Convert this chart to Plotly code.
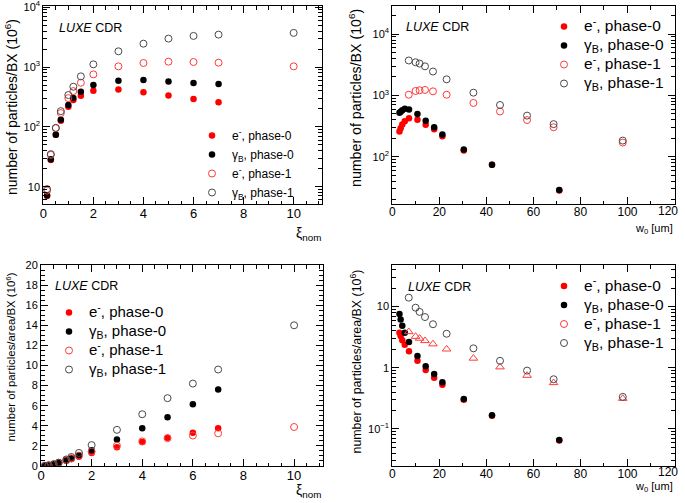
import plotly.graph_objects as go

# ---------------- data ----------------
xi_phase0 = [0.15, 0.3, 0.5, 0.7, 1.0, 1.2, 1.5, 2, 3, 4, 5, 6, 7]
xi_phase1 = [0.15, 0.3, 0.5, 0.7, 1.0, 1.2, 1.5, 2, 3, 4, 5, 6, 7, 10]

w0_phase0 = [142, 71, 42.4, 30.4, 21.3, 17.8, 14.2, 10.7, 7.1, 5.3, 4.25, 3.55, 3.05]
w0_phase1 = [460, 230, 138, 98.0, 68.6, 57.3, 45.8, 34.5, 23.1, 17.3, 13.9, 11.6, 9.9, 7.0]

# number of particles / BX (10^6)
n_e_phase0 = [7.0, 28, 73.5, 126, 216, 280, 331, 401, 422, 380, 335, 291, 257]
n_g_phase0 = [7.2, 28.6, 73.5, 131, 231, 302, 386, 499, 590, 605, 575, 540, 519]
n_e_phase1 = [8.6, 34, 95, 170, 302, 396, 546, 753, 1026, 1166, 1228, 1213, 1182, 1026]
n_g_phase1 = [9.1, 35, 96, 183, 340, 468, 698, 1109, 1831, 2455, 2985, 3310, 3480, 3720]

# number of particles / area / BX (10^6)
d_e_phase0 = [0.02, 0.065, 0.165, 0.30, 0.53, 0.69, 0.92, 1.3, 1.86, 2.38, 2.82, 3.3, 3.75]
d_g_phase0 = [0.02, 0.066, 0.168, 0.31, 0.58, 0.79, 1.06, 1.56, 2.63, 3.75, 4.85, 6.15, 7.6]
d_e_phase1 = [0.02, 0.07, 0.17, 0.315, 0.57, 0.75, 1.03, 1.43, 2.02, 2.45, 2.77, 3.03, 3.25, 3.88]
d_g_phase1 = [0.02, 0.07, 0.18, 0.335, 0.65, 0.9, 1.3, 2.08, 3.6, 5.15, 6.75, 8.2, 9.6, 14.0]

legend_labels = ["e<sup>-</sup>, phase-0", "γ<sub>B</sub>, phase-0",
                 "e<sup>-</sup>, phase-1", "γ<sub>B</sub>, phase-1"]

log_ticks_top = [10, 100, 1000, 10000]
log_ticktext_top = ["10", "10<sup>2</sup>", "10<sup>3</sup>", "10<sup>4</sup>"]
log_ticks_br = [0.1, 1, 10]
log_ticktext_br = ["10<sup>−1</sup>", "1", "10"]
w0_ticks = [0, 20, 40, 60, 80, 100, 120]
w0_ticktext = ["0", "20", "40", "60", "80", "100", ""]
w0_last_label = "120"

# ---------------- styling ----------------
FONT = "Liberation Sans, Arial, Helvetica, sans-serif"
W, H = 685, 503


def fx(p):
    return p / W


def fy(p):
    return 1 - p / H


RED = "#ff0000"
BLACK = "#000000"
RED_OPEN = "#ff3b3b"
GRAY_OPEN = "#4a4a4a"

styles = [
    dict(symbol="circle", size=6.5, color=RED, line=dict(width=0)),
    dict(symbol="circle", size=6.5, color=BLACK, line=dict(width=0)),
    dict(symbol="circle-open", size=7, color=RED_OPEN, line=dict(width=1, color=RED_OPEN)),
    dict(symbol="circle-open", size=7, color=GRAY_OPEN, line=dict(width=1, color=GRAY_OPEN)),
]


def lname(txt, fs):
    return f"<span style='font-size:{fs}px'>{txt}</span>"


fig = go.Figure()

panels = [
    # (xaxis, yaxis, legend, xs, ys, legend font size)
    ("x", "y", "legend",
     [xi_phase0, xi_phase0, xi_phase1, xi_phase1],
     [n_e_phase0, n_g_phase0, n_e_phase1, n_g_phase1], 12),
    ("x2", "y2", "legend2",
     [w0_phase0, w0_phase0, w0_phase1, w0_phase1],
     [n_e_phase0, n_g_phase0, n_e_phase1, n_g_phase1], 15.5),
    ("x3", "y3", "legend3",
     [xi_phase0, xi_phase0, xi_phase1, xi_phase1],
     [d_e_phase0, d_g_phase0, d_e_phase1, d_g_phase1], 15),
    ("x4", "y4", "legend4",
     [w0_phase0, w0_phase0, w0_phase1, w0_phase1],
     [d_e_phase0, d_g_phase0, d_e_phase1, d_g_phase1], 15.5),
]

for xa, ya, lg, xs, ys, lfs in panels:
    for i in range(4):
        st = dict(styles[i])
        if xa == "x4" and i == 2:
            # plotted as open triangles, legend shows an open circle
            fig.add_trace(go.Scatter(x=[None], y=[None], mode="markers", marker=st,
                                     name=lname(legend_labels[i], lfs), legend=lg,
                                     xaxis=xa, yaxis=ya, showlegend=True))
            tri = dict(st)
            tri["symbol"] = "triangle-up-open"
            tri["size"] = 7.5
            fig.add_trace(go.Scatter(x=xs[i], y=ys[i], mode="markers", marker=tri,
                                     showlegend=False, xaxis=xa, yaxis=ya))
        else:
            fig.add_trace(go.Scatter(x=xs[i], y=ys[i], mode="markers", marker=st,
                                     name=lname(legend_labels[i], lfs), legend=lg,
                                     xaxis=xa, yaxis=ya))

axis_common = dict(showline=True, linecolor="black", linewidth=1, mirror="allticks",
                   ticks="inside", tickcolor="black", showgrid=False, zeroline=False,
                   ticklen=7, tickwidth=1, automargin=False, ticklabeloverflow="allow")


def minor_lin(step):
    return dict(ticks="inside", ticklen=3.5, tickcolor="black", dtick=step, showgrid=False)


def minor_log(kmin, kmax):
    vals = [m * 10 ** k for k in range(kmin, kmax + 1) for m in range(2, 10)]
    return dict(ticks="inside", ticklen=3.5, tickcolor="black", tickmode="array",
                tickvals=vals, showgrid=False)


dom_tl_x = [fx(43.3), fx(321.7)]
dom_tr_x = [fx(392.3), fx(674.5)]
dom_bl_x = [fx(41.0), fx(322.7)]
dom_br_x = [fx(392.3), fx(674.5)]
dom_top_y = [fy(204), fy(6)]
dom_bot_y = [fy(466), fy(265)]

xt_font_l = dict(family=FONT, size=13, color="black")
xt_font_r = dict(family=FONT, size=12, color="black")
yt_font = dict(family=FONT, size=11, color="black")

XSO = -3  # pull x tick labels a little closer to the frame

fig.update_layout(
    width=W, height=H,
    margin=dict(l=0, r=0, t=0, b=0, autoexpand=False),
    paper_bgcolor="white", plot_bgcolor="white",
    font=dict(family=FONT, color="black"),
    xaxis=dict(axis_common, domain=dom_tl_x, anchor="y", range=[0, 11.12], dtick=2,
               tick0=0, minor=minor_lin(0.5), tickfont=xt_font_l, ticklabelstandoff=XSO),
    yaxis=dict(axis_common, domain=dom_top_y, anchor="x", type="log", range=[0.71, 4.02],
               tickmode="array", tickvals=log_ticks_top, ticktext=log_ticktext_top,
               minor=minor_log(0, 4), tickfont=yt_font),
    xaxis2=dict(axis_common, domain=dom_tr_x, anchor="y2", range=[0, 120],
                tickmode="array", tickvals=w0_ticks, ticktext=w0_ticktext,
                minor=minor_lin(10), tickfont=xt_font_r, ticklabelstandoff=XSO),
    yaxis2=dict(axis_common, domain=dom_top_y, anchor="x2", type="log", range=[1.227, 4.46],
                tickmode="array", tickvals=log_ticks_top, ticktext=log_ticktext_top,
                minor=minor_log(1, 4), tickfont=yt_font),
    xaxis3=dict(axis_common, domain=dom_bl_x, anchor="y3", range=[0, 11.13], dtick=2,
                tick0=0, minor=minor_lin(0.5), tickfont=xt_font_l, ticklabelstandoff=XSO),
    yaxis3=dict(axis_common, domain=dom_bot_y, anchor="x3", range=[0, 20], dtick=2,
                tick0=0, minor=minor_lin(0.5), tickfont=yt_font),
    xaxis4=dict(axis_common, domain=dom_br_x, anchor="y4", range=[0, 120],
                tickmode="array", tickvals=w0_ticks, ticktext=w0_ticktext,
                minor=minor_lin(10), tickfont=xt_font_r, ticklabelstandoff=XSO),
    yaxis4=dict(axis_common, domain=dom_bot_y, anchor="x4", type="log", range=[-1.605, 1.68],
                tickmode="array", tickvals=log_ticks_br, ticktext=log_ticktext_br,
                minor=minor_log(-2, 1), tickfont=yt_font),
)

leg_common = dict(bgcolor="rgba(0,0,0,0)", borderwidth=0, xanchor="left", yanchor="top",
                  font=dict(family=FONT, size=12, color="black"), itemwidth=30)
fig.update_layout(
    legend=dict(leg_common, x=fx(192), y=fy(121)),
    legend2=dict(leg_common, x=fx(544), y=fy(12)),
    legend3=dict(leg_common, x=fx(49), y=fy(298)),
    legend4=dict(leg_common, x=fx(544), y=fy(271.5)),
)

ann = []
# LUXE CDR labels
for x0, yc in [(57, 28), (404, 27), (53, 286), (406, 287)]:
    ann.append(dict(text="<i>LUXE</i> CDR", x=fx(x0), y=fy(yc), xref="paper", yref="paper",
                    xanchor="left", yanchor="middle", showarrow=False,
                    font=dict(family=FONT, size=12.5, color="black")))

# last tick label of the w0 axes, kept inside the page like the reference
for yc in [211, 472]:
    ann.append(dict(text=w0_last_label, x=fx(680), y=fy(yc), xref="paper", yref="paper",
                    xanchor="right", yanchor="middle", showarrow=False,
                    font=xt_font_r))

# y-axis titles
for xc, ytop, txt, fs in [
    (11, 17, "number of particles/BX (10<sup>6</sup>)", 14),
    (355, 7, "number of particles/BX (10<sup>6</sup>)", 14.2),
    (10, 271, "number of particles/area/BX (10<sup>6</sup>)", 11.4),
    (355.5, 268, "number of particles/area/BX (10<sup>6</sup>)", 12.4),
]:
    ann.append(dict(text=txt, x=fx(xc), y=fy(ytop), xref="paper", yref="paper",
                    xanchor="center", yanchor="top", textangle=-90, showarrow=False,
                    font=dict(family=FONT, size=fs, color="black")))

# x-axis titles
for xr, yc, txt, fs in [
    (323, 234, "ξ<sub>nom</sub>", 14),
    (675, 229, "w<sub>0</sub> [um]", 11),
    (323, 491, "ξ<sub>nom</sub>", 14),
    (675, 487, "w<sub>0</sub> [um]", 11),
]:
    ann.append(dict(text=txt, x=fx(xr), y=fy(yc), xref="paper", yref="paper",
                    xanchor="right", yanchor="middle", showarrow=False,
                    font=dict(family=FONT, size=fs, color="black")))

fig.update_layout(annotations=ann)

fig.write_html(
    "out.html",
    config={"displayModeBar": False},
    post_script="document.body.style.margin='0';document.body.style.padding='0';"
                "document.body.style.overflow='hidden';",
)
